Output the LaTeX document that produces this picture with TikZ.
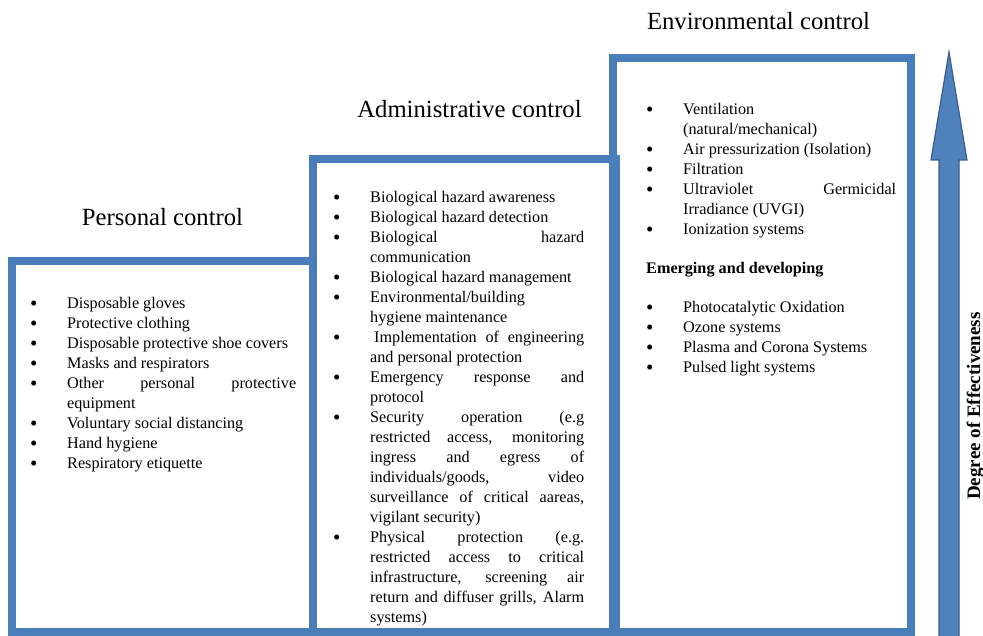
\documentclass[tikz,border=0pt]{standalone}
\usepackage{fontspec}
\setmainfont{Liberation Serif}
\usetikzlibrary{positioning}
\definecolor{stepblue}{RGB}{74,126,187}
\definecolor{arrowfill}{RGB}{79,129,189}
\definecolor{arrowline}{RGB}{56,93,138}
\tolerance=10000
\hbadness=10000
\hyphenpenalty=10000
\newcommand{\stepitem}[1]{\noindent\llap{\makebox[37pt][l]{\raisebox{-1.2pt}{\fontsize{21}{21}\selectfont\textbullet}}}#1\par}
\begin{document}
\begin{tikzpicture}[x=1pt, y=1pt,
        stepbox/.style={draw=stepblue, line width=8.5pt, inner sep=0pt, outer sep=0pt, anchor=south west},
        steptitle/.style={inner sep=0pt, font=\fontsize{24.7}{28}\selectfont},
        steplist/.style={inner sep=0pt, anchor=base west, align=justify, font=\fontsize{16.2}{20}\selectfont}
        ]
        \useasboundingbox (0,0) rectangle (983,636);
        \node[stepbox, minimum width=298pt, minimum height=574pt] (environ) at (613,4) {};
        \node[stepbox, minimum width=303pt, minimum height=473pt] (admin) at (313,4) {};
        \node[stepbox, minimum width=301pt, minimum height=371pt] (personal) at (12,4) {};

        \node[steptitle, above=35pt of personal] (personaltitle) {Personal control};
        \node[steptitle, above=41pt of admin, xshift=5pt] (admintitle) {Administrative control};
        \node[steptitle, above=28pt of environ, xshift=-3.5pt] (environtitle) {Environmental control};

        \node[steplist, text width=266pt] (personallist) at ([shift={(18,-48)}]personal.north west) {%
          \leftskip=37pt\relax\stepitem{Disposable gloves}
          \stepitem{Protective clothing}
          \stepitem{Disposable protective shoe covers}
          \stepitem{Masks and respirators}
          \stepitem{Other personal protective\linebreak equipment}
          \stepitem{Voluntary social distancing}
          \stepitem{Hand hygiene}
          \stepitem{Respiratory etiquette}
        };
        \node[steplist, text width=251pt] (adminlist) at ([shift={(20,-44)}]admin.north west) {%
          \leftskip=37pt\relax\stepitem{Biological hazard awareness}
          \stepitem{Biological hazard detection}
          \stepitem{Biological hazard\linebreak communication}
          \stepitem{Biological hazard management}
          \stepitem{Environmental/building\newline hygiene maintenance}
          \stepitem{\hspace*{4pt}Implementation of engineering\linebreak and personal protection}
          \stepitem{Emergency response and\linebreak protocol}
          \stepitem{Security operation (e.g\linebreak restricted access, monitoring\linebreak ingress and egress of\linebreak individuals/goods, video\linebreak surveillance of critical aareas,\linebreak vigilant security)}
          \stepitem{Physical protection (e.g.\linebreak restricted access to critical\linebreak infrastructure, screening air\linebreak return and diffuser grills, Alarm\linebreak systems)}
        };
        \node[steplist, text width=250pt] (environlist) at ([shift={(33,-57)}]environ.north west) {%
          \leftskip=37pt\relax\stepitem{Ventilation\newline (natural/mechanical)}
          \stepitem{Air pressurization (Isolation)}
          \stepitem{Filtration}
          \stepitem{Ultraviolet Germicidal\linebreak Irradiance (UVGI)}
          \stepitem{Ionization systems}
          {\leftskip=0pt\vskip19pt\noindent\textbf{Emerging and developing}\par}
          \vskip19pt
          \stepitem{Photocatalytic Oxidation}
          \stepitem{Ozone systems}
          \stepitem{Plasma and Corona Systems}
          \stepitem{Pulsed light systems}
        };

        % degree of effectiveness
        \filldraw[fill=arrowfill, draw=arrowline, line width=1.2pt]
          (939,-2) -- (939,476) -- (931,476) -- (949,584) -- (967,476) -- (959,476) -- (959,-2) -- cycle;
        \node[rotate=90, anchor=base, inner sep=0pt, font=\bfseries\fontsize{19}{22}\selectfont] (effect) at (980,230) {Degree of Effectiveness};
      \end{tikzpicture}
\end{document}
